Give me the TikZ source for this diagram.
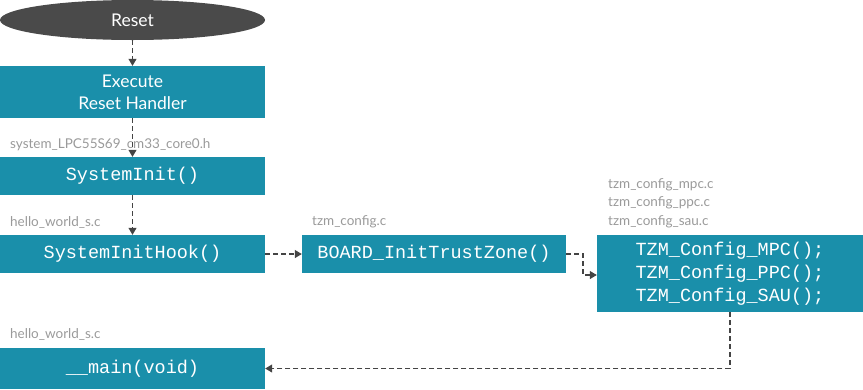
\documentclass[tikz,border=0pt]{standalone}
\usepackage{fontspec}
\setmainfont{Lato}
\setmonofont{Liberation Mono}
\usetikzlibrary{arrows.meta,shapes.geometric}
\definecolor{teal1}{HTML}{1A8FAA}
\definecolor{darkell}{HTML}{4A4A4A}
\definecolor{lblgray}{HTML}{9A9A9A}
\definecolor{linegray}{HTML}{444444}
\tikzset{
  boxnode/.style={rectangle, fill=teal1, draw=none, text=white, inner sep=0pt, align=center},
  codetext/.style={font=\ttfamily\fontsize{18.5}{23}\selectfont},
  sanstext/.style={font=\fontsize{17.5}{22}\selectfont},
  filelabel/.style={anchor=west, text=lblgray, inner sep=0pt, font=\fontsize{13.5}{18}\selectfont, align=left},
  conn/.style={draw=linegray, line width=1.2pt, dash pattern=on 5pt off 3pt, -{Triangle[length=7pt,width=8pt]}},
}
\begin{document}
\begin{tikzpicture}[x=1pt,y=-1pt]
\useasboundingbox (0,0) rectangle (863,389);
\node[ellipse, fill=darkell, text=white, minimum width=265pt, minimum height=40pt, inner sep=0pt, sanstext] (reset) at (132.5,20) {Reset};
\node[boxnode, sanstext, minimum width=265pt, minimum height=52pt] (exec) at (132.5,92) {Execute\\Reset Handler};
\node[filelabel] (l1) at (10,145) {system\_LPC55S69\_cm33\_core0.h};
\node[boxnode, codetext, minimum width=265pt, minimum height=38pt] (sysinit) at (132.5,176) {SystemInit()};
\node[filelabel] (l2) at (10,222) {hello\_world\_s.c};
\node[boxnode, codetext, minimum width=265pt, minimum height=38pt] (hook) at (132.5,254) {SystemInitHook()};
\node[filelabel] (l3) at (312,222) {tzm\_config.c};
\node[boxnode, codetext, minimum width=264pt, minimum height=38pt] (board) at (434,254) {BOARD\_InitTrustZone()};
\node[filelabel, font=\fontsize{13.5}{18.5}\selectfont] (l4) at (608,203) {tzm\_config\_mpc.c\\tzm\_config\_ppc.c\\tzm\_config\_sau.c};
\node[boxnode, codetext, minimum width=266pt, minimum height=77pt] (tzm) at (730,273.5) {TZM\_Config\_MPC();\\TZM\_Config\_PPC();\\TZM\_Config\_SAU();};
\node[filelabel] (l5) at (10,334) {hello\_world\_s.c};
\node[boxnode, codetext, minimum width=265pt, minimum height=41pt] (mainf) at (132.5,368.5) {\_\_main(void)};
\coordinate (e1) at (583,254);
\coordinate (e2) at (583,275);
\coordinate (e3) at (730,368.5);
\draw[conn] (reset.south) -- (exec.north);
\draw[conn] (exec.south) -- (sysinit.north);
\draw[conn] (sysinit.south) -- (hook.north);
\draw[conn] (hook.east) -- (board.west);
\draw[conn] (board.east) -- (e1) -- (e2) -- (tzm.west |- e2);
\draw[conn] (tzm.south) -- (e3) -- (mainf.east);
\end{tikzpicture}
\end{document}
